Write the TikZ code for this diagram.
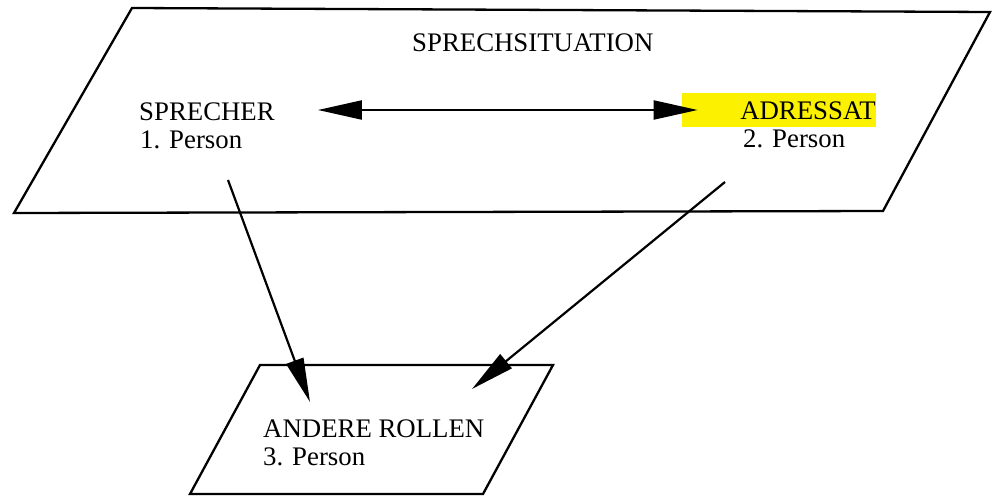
\documentclass[tikz,border=0pt]{standalone}
\usepackage{fontspec}
\setmainfont{Liberation Serif}
\usetikzlibrary{arrows.meta}
\definecolor{hl}{RGB}{252,242,0}
\begin{document}
\begin{tikzpicture}[x=1pt,y=-1pt,
  frame/.style={draw=black,line width=2.3pt,line join=miter},
  lbl/.style={inner sep=0pt,anchor=base west,font=\fontsize{26.8}{28}\selectfont},
  arr/.style={draw=black,line width=2.2pt,-{Triangle[length=44pt,width=18pt]}},
  darr/.style={draw=black,line width=2.2pt,{Triangle[length=44pt,width=19pt]}-{Triangle[length=44pt,width=19pt]}}]
\useasboundingbox (0,0) rectangle (992,495);
% main plane
\draw[frame] (132,8) -- (990,12) -- (883,211) -- (14,213) -- cycle;
% lower plane
\draw[frame] (260,365) -- (553,365) -- (483,494) -- (190,494) -- cycle;
% texts
\node[lbl] (title) at (412,52) {SPRECHSITUATION};
\node[lbl] (spr) at (139,120) {SPRECHER};
\node[lbl] (p1) at (140,148) {1. Person};
\node[inner sep=0pt,anchor=base east,fill=hl,text width=194pt,align=right,
      text height=26pt,text depth=8pt,font=\fontsize{26.8}{28}\selectfont]
      (adr) at (876,119) {ADRESSAT};
\node[lbl] (p2) at (743,147) {2. Person};
\node[lbl] (and) at (263,437) {ANDERE ROLLEN};
\node[lbl] (p3) at (263,465) {3. Person};
% connectors
\coordinate (s1) at (228,180);
\coordinate (t1) at (310,402);
\coordinate (s2) at (725,182);
\coordinate (t2) at (472,389);
\draw[darr] ([xshift=43pt]spr.east |- adr.west) -- ([xshift=16pt]adr.west);
\draw[arr] (s1) -- (t1);
\draw[arr] (s2) -- (t2);
\end{tikzpicture}
\end{document}
